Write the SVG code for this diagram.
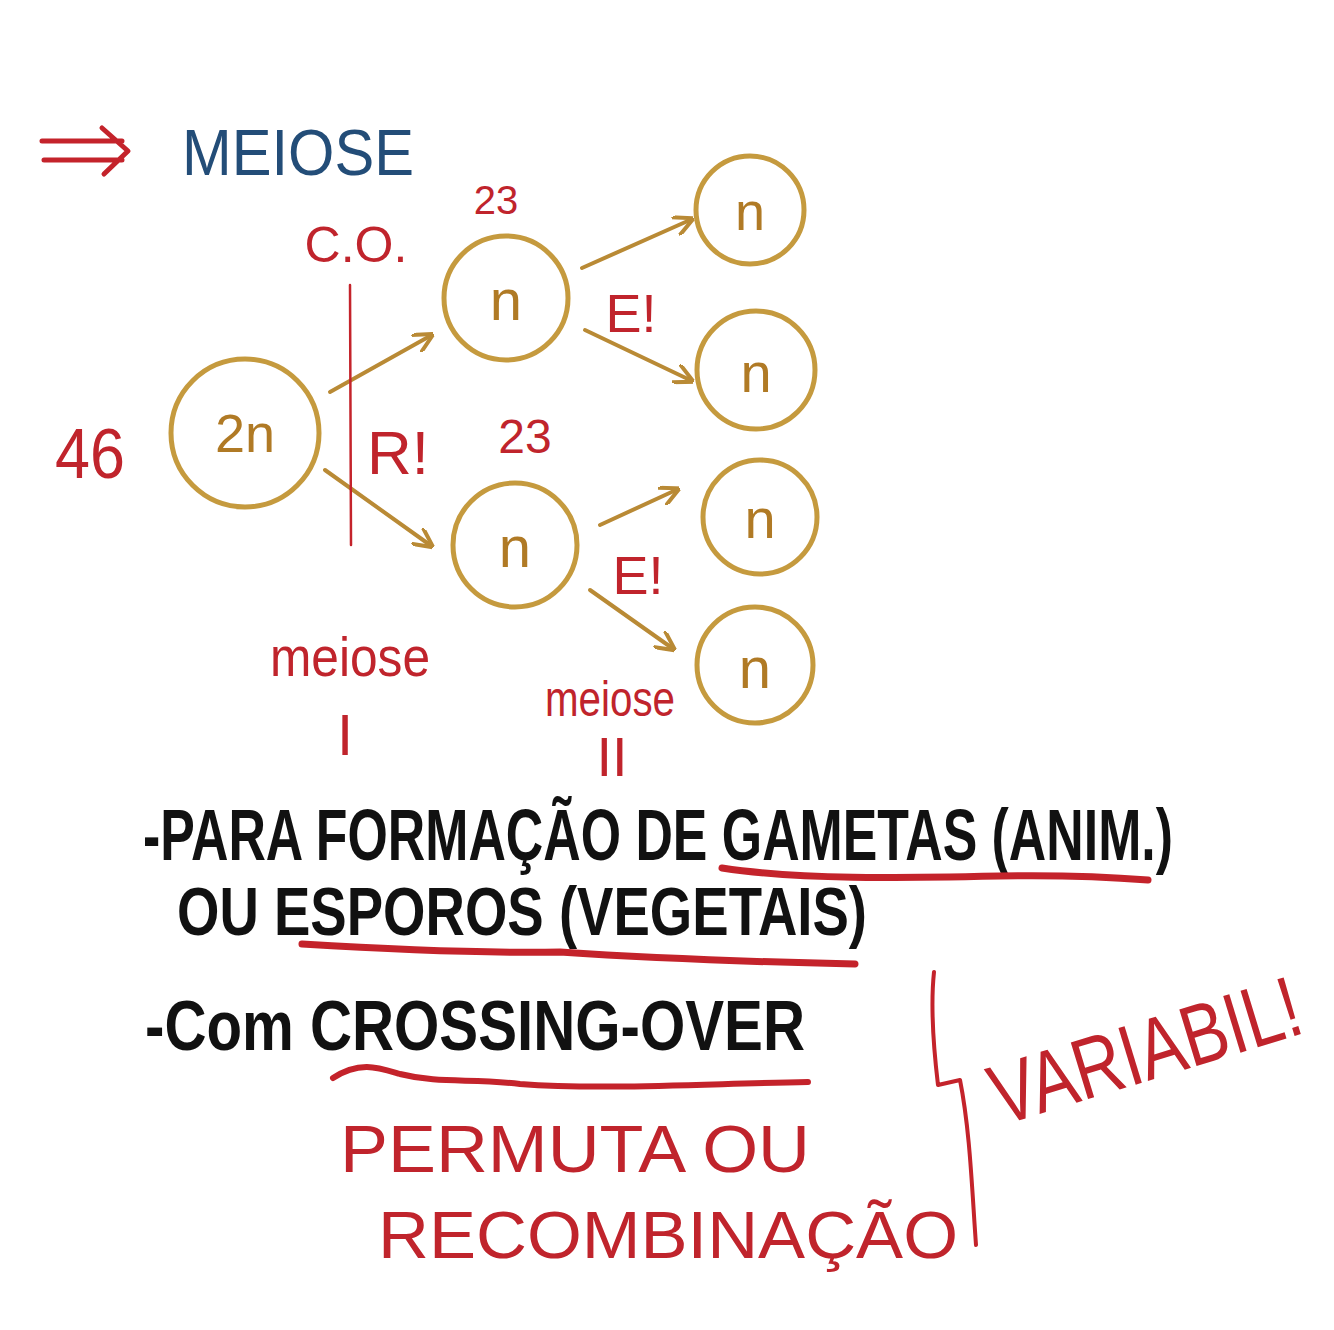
<svg xmlns="http://www.w3.org/2000/svg" width="1334" height="1330" viewBox="0 0 1334 1330">
<defs>
<style>
.bg{fill:#ffffff}
.cell{fill:none;stroke:#c59a3e;stroke-width:5}
.lab{font-family:"Liberation Sans",Arial,sans-serif;text-anchor:middle}
.gold{fill:#b07a25}
.red{fill:#c0242c}
.blue{fill:#234d78}
.blk{fill:#111111;font-weight:bold}
.con{fill:none;stroke:#b98a35;stroke-width:4;stroke-linecap:round}
.rl{fill:none;stroke:#c4232b;stroke-linecap:round;stroke-linejoin:round}
</style>
<marker id="ah" viewBox="0 0 10 10" refX="8" refY="5" markerWidth="5" markerHeight="5" orient="auto-start-reverse" markerUnits="strokeWidth">
<path d="M0,0 L10,5 L0,10" fill="none" stroke="#b98a35" stroke-width="2"/>
</marker>
</defs>
<rect class="bg" x="0" y="0" width="1334" height="1330"/>

<g id="title">
<path class="rl" stroke-width="5" d="M42,141 L122,141 M44,160 L122,160 M102,128 L128,151 L104,174"/>
<text class="lab blue" x="298" y="175" font-size="64" textLength="232" lengthAdjust="spacingAndGlyphs">MEIOSE</text>
</g>

<g id="connectors">
<path class="con" marker-end="url(#ah)" d="M330,392 L430,336"/>
<path class="con" marker-end="url(#ah)" d="M325,470 L430,545"/>
<path class="con" marker-end="url(#ah)" d="M582,268 L690,220"/>
<path class="con" marker-end="url(#ah)" d="M585,330 L690,380"/>
<path class="con" marker-end="url(#ah)" d="M600,525 L676,490"/>
<path class="con" marker-end="url(#ah)" d="M590,590 L672,648"/>
<path class="rl" stroke-width="2.5" d="M350,285 L351,545"/>
</g>

<g id="node-2n">
<circle class="cell" cx="245" cy="433" r="74"/>
<text class="lab gold" x="245" y="452" font-size="54">2n</text>
</g>
<g id="node-n1">
<circle class="cell" cx="506" cy="298" r="62"/>
<text class="lab gold" x="506" y="320" font-size="58">n</text>
</g>
<g id="node-n2">
<circle class="cell" cx="515" cy="545" r="62"/>
<text class="lab gold" x="515" y="567" font-size="58">n</text>
</g>
<g id="node-n3">
<circle class="cell" cx="750" cy="210" r="54"/>
<text class="lab gold" x="750" y="230" font-size="54">n</text>
</g>
<g id="node-n4">
<circle class="cell" cx="756" cy="370" r="59"/>
<text class="lab gold" x="756" y="392" font-size="56">n</text>
</g>
<g id="node-n5">
<circle class="cell" cx="760" cy="517" r="57"/>
<text class="lab gold" x="760" y="538" font-size="56">n</text>
</g>
<g id="node-n6">
<circle class="cell" cx="755" cy="665" r="58"/>
<text class="lab gold" x="755" y="688" font-size="58">n</text>
</g>

<g id="labels">
<text class="lab red" x="356" y="262" font-size="50">C.O.</text>
<text class="lab red" x="496" y="214" font-size="40">23</text>
<text class="lab red" x="525" y="453" font-size="48">23</text>
<text class="lab red" x="90" y="478" font-size="70" textLength="70" lengthAdjust="spacingAndGlyphs">46</text>
<text class="lab red" x="398" y="474" font-size="62">R!</text>
<text class="lab red" x="631" y="332" font-size="54">E!</text>
<text class="lab red" x="638" y="594" font-size="54">E!</text>
<text class="lab red" x="350" y="676" font-size="56" textLength="160" lengthAdjust="spacingAndGlyphs">meiose</text>
<text class="lab red" x="345" y="755" font-size="58">I</text>
<text class="lab red" x="610" y="716" font-size="50" textLength="130" lengthAdjust="spacingAndGlyphs">meiose</text>
<text class="lab red" x="612" y="776" font-size="56">II</text>
</g>

<g id="notes">
<text class="lab blk" x="658" y="860" font-size="72" textLength="1030" lengthAdjust="spacingAndGlyphs">-PARA FORMAÇÃO DE GAMETAS (ANIM.)</text>
<path class="rl" stroke-width="7" d="M722,868 C800,880 900,878 1000,876 C1060,875 1110,877 1148,880"/>
<text class="lab blk" x="522" y="935" font-size="68" textLength="690" lengthAdjust="spacingAndGlyphs">OU  ESPOROS (VEGETAIS)</text>
<path class="rl" stroke-width="7" d="M302,944 C400,950 500,953 560,952 C650,958 760,962 855,964"/>
<text class="lab blk" x="475" y="1050" font-size="70" textLength="660" lengthAdjust="spacingAndGlyphs">-Com CROSSING-OVER</text>
<path class="rl" stroke-width="6" d="M333,1078 C360,1060 380,1068 400,1074 C440,1084 470,1078 520,1084 C600,1090 700,1084 808,1082"/>
<text class="lab red" x="575" y="1172" font-size="66" textLength="470" lengthAdjust="spacingAndGlyphs">PERMUTA OU</text>
<text class="lab red" x="668" y="1258" font-size="66" textLength="580" lengthAdjust="spacingAndGlyphs">RECOMBINAÇÃO</text>
<path class="rl" stroke-width="4" d="M934,972 C930,1010 935,1060 938,1085 L960,1080 C970,1130 972,1190 976,1245"/>
<text class="lab red" x="1148" y="1080" font-size="86" textLength="320" lengthAdjust="spacingAndGlyphs" transform="rotate(-17 1148 1060)">VARIABIL!</text>
</g>
</svg>
